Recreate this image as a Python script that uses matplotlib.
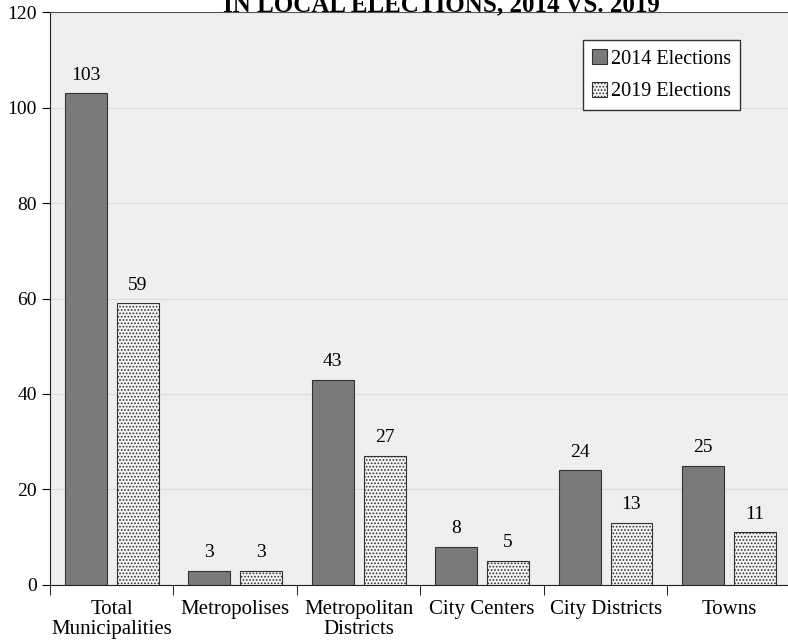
import numpy as np
import matplotlib.pyplot as plt

plt.rcParams['font.family'] = ['Liberation Serif', 'DejaVu Serif']
plt.rcParams['hatch.color'] = '#8a8a8a'
plt.rcParams['hatch.linewidth'] = 0.8

categories = ['Total\nMunicipalities', 'Metropolises', 'Metropolitan\nDistricts',
              'City Centers', 'City Districts', 'Towns']
votes_2014 = [103, 3, 43, 8, 24, 25]
votes_2019 = [59, 3, 27, 5, 13, 11]

fig = plt.figure(figsize=(7.88, 6.42), dpi=100)
ax = fig.add_axes([0.0635, 0.089, 0.94, 0.892])
ax.set_facecolor('#efefef')

x = np.arange(len(categories))
w = 0.34
b1 = ax.bar(x - 0.21, votes_2014, w, color='#7a7a7a', edgecolor='#333333',
            linewidth=0.8, label='2014 Elections', zorder=3)
b2 = ax.bar(x + 0.21, votes_2019, w, color='#f4f4f4', edgecolor='#333333',
            linewidth=0.8, hatch='.....', label='2019 Elections', zorder=3)

for bars in (b1, b2):
    for r in bars:
        ax.text(r.get_x() + r.get_width() / 2, r.get_height() + 2,
                str(int(r.get_height())), ha='center', va='bottom', fontsize=14)

ax.set_ylim(0, 120)
ax.set_xlim(-0.5, len(categories) - 0.53)
ax.set_yticks(range(0, 121, 20))
ax.tick_params(axis='y', labelsize=14, length=6, direction='out')
ax.yaxis.grid(True, color='#dcdcdc', linewidth=0.8, zorder=0)
ax.set_axisbelow(True)

# category labels centered, ticks at boundaries
ax.set_xticks(x)
ax.set_xticklabels(categories, fontsize=15, linespacing=1.05)
ax.tick_params(axis='x', length=0, pad=11)
ax.set_xticks(np.arange(len(categories) + 1) - 0.5, minor=True)
ax.tick_params(axis='x', which='minor', length=7, direction='out')

ax.spines['right'].set_visible(False)
ax.spines['top'].set_color('#555555')
ax.spines['left'].set_color('#222222')
ax.spines['bottom'].set_color('#222222')

leg = ax.legend(loc='upper right', bbox_to_anchor=(0.932, 0.951), borderaxespad=0,
                fontsize=14.5, frameon=True, fancybox=False, handlelength=0.75,
                handleheight=0.75, handletextpad=0.2, labelspacing=0.65, borderpad=0.45)
leg.get_frame().set_edgecolor('#333333')
leg.get_frame().set_facecolor('white')
leg.get_frame().set_alpha(1)

fig.text(0.56, 0.993, 'IN LOCAL ELECTIONS, 2014 VS. 2019', ha='center', va='center',
         fontsize=18, fontweight='bold')

fig.savefig('out.png', dpi=100)
